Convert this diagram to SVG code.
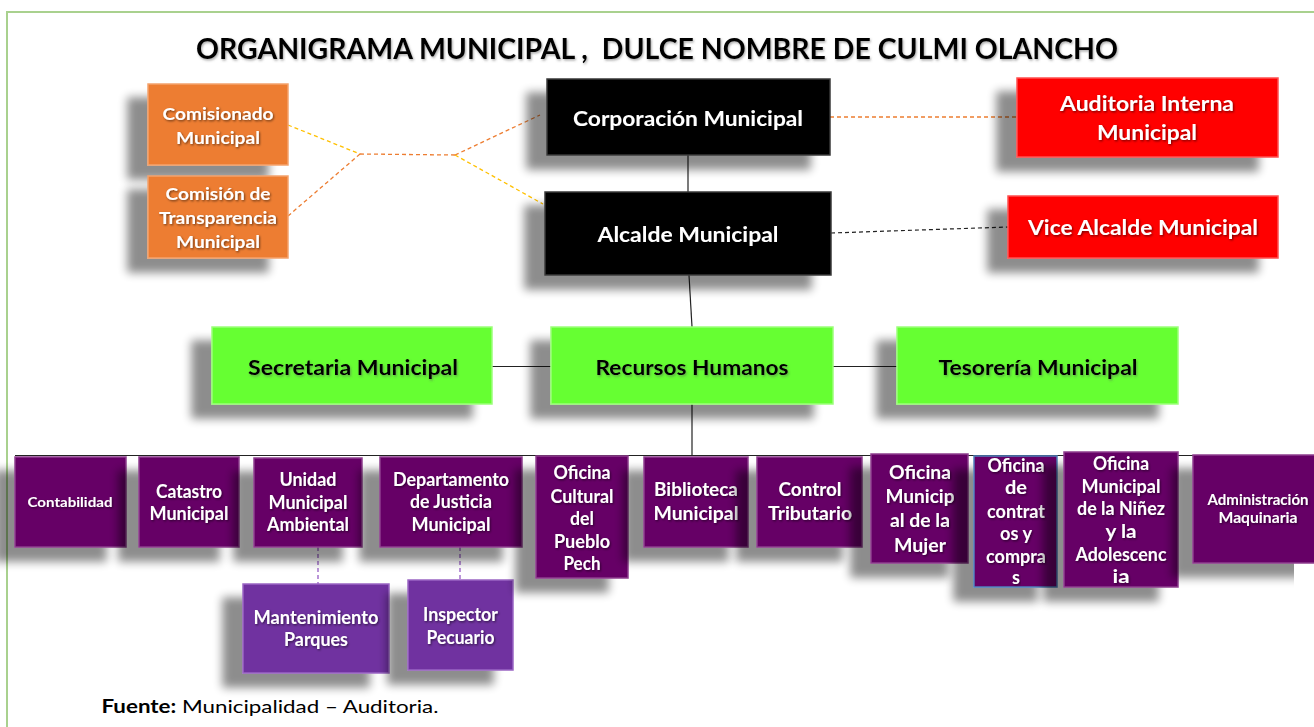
<svg xmlns="http://www.w3.org/2000/svg" width="1314" height="727" viewBox="0 0 1314 727">
<defs>
<filter id="sh" filterUnits="userSpaceOnUse" x="0" y="0" width="1314" height="727">
<feGaussianBlur in="SourceAlpha" stdDeviation="5" result="b"/>
<feOffset in="b" dx="-20" dy="14" result="o"/>
<feComponentTransfer in="o" result="s"><feFuncA type="linear" slope="0.45"/></feComponentTransfer>
<feMerge><feMergeNode in="s"/><feMergeNode in="SourceGraphic"/></feMerge>
</filter>
<filter id="ts" x="-10%" y="-30%" width="120%" height="160%">
<feDropShadow dx="1" dy="1.2" stdDeviation="0.8" flood-color="#000" flood-opacity="0.55"/>
</filter>
<filter id="tsg" x="-10%" y="-30%" width="120%" height="160%">
<feDropShadow dx="1" dy="1.5" stdDeviation="1" flood-color="#555" flood-opacity="0.5"/>
</filter>
</defs>
<style>
text{font-family:Lato,"Liberation Sans",sans-serif;font-weight:bold;text-anchor:middle}
.w{fill:#fff;filter:url(#ts)}
.k{fill:#000;filter:url(#tsg)}
.org{fill:#ED7D31;stroke:#F4A36C;stroke-width:1.5}
.blk{fill:#000;stroke:#3a3a3a;stroke-width:1.5}
.red{fill:#FF0000;stroke:#FF5050;stroke-width:1.5}
.grn{fill:#66FF33;stroke:#9CFF7A;stroke-width:1.5}
.pur{fill:#660066;stroke:#8E3C8E;stroke-width:1.5}
.lpu{fill:#7030A0;stroke:#9A66C4;stroke-width:1.5}
.p{font-size:18px}
.ln{stroke:#222;stroke-width:1.2;fill:none}
.do{stroke:#ED7D31;stroke-width:1.3;stroke-dasharray:4 3;fill:none}
.dy{stroke:#FFC000;stroke-width:1.3;stroke-dasharray:4 3;fill:none}
.dk{stroke:#222;stroke-width:1.2;stroke-dasharray:4 3;fill:none}
.dp{stroke:#8E4FC0;stroke-width:1.2;stroke-dasharray:4 3;fill:none}
</style>
<rect x="0" y="0" width="1314" height="727" fill="#fff"/>
<path d="M7 727 V12 H1314" fill="none" stroke="#A9D18E" stroke-width="2"/>
<text id="title" x="657" y="59" font-size="29" textLength="922" lengthAdjust="spacingAndGlyphs" fill="#000" filter="url(#tsg)">ORGANIGRAMA MUNICIPAL ,&#160; DULCE NOMBRE DE CULMI OLANCHO</text>

<g id="connectors">
<line class="ln" x1="15" y1="455.5" x2="1314" y2="455.5"/>
<line class="ln" x1="688" y1="155" x2="688" y2="192"/>
<line class="ln" x1="689" y1="275" x2="692" y2="327"/>
<line class="ln" x1="492" y1="366.5" x2="551" y2="366.5"/>
<line class="ln" x1="833" y1="366.5" x2="897" y2="366.5"/>
<line class="ln" x1="692" y1="404" x2="692" y2="455.5"/>
<line class="do" x1="830" y1="117" x2="1017" y2="117"/>
<line class="dk" x1="831" y1="233" x2="1008" y2="227"/>
<line class="dy" x1="288" y1="125" x2="360" y2="154"/>
<line class="do" x1="288" y1="216" x2="360" y2="154"/>
<line class="do" x1="360" y1="154" x2="455" y2="155"/>
<line class="do" x1="455" y1="155" x2="540" y2="115"/>
<line class="dy" x1="455" y1="155" x2="543" y2="204"/>
<line class="dp" x1="318" y1="547" x2="318" y2="584"/>
<line class="dp" x1="460" y1="547" x2="460" y2="580"/>
</g>

<g id="comisionado">
<rect class="org" x="148" y="84" width="140" height="81" filter="url(#sh)"/>
<text class="w" x="218" y="120" font-size="17" textLength="111" lengthAdjust="spacingAndGlyphs">Comisionado</text>
<text class="w" x="218" y="144" font-size="17" textLength="84" lengthAdjust="spacingAndGlyphs">Municipal</text>
</g>
<g id="comision-transparencia">
<rect class="org" x="148" y="176" width="140" height="82" filter="url(#sh)"/>
<text class="w" x="218" y="200" font-size="17" textLength="105" lengthAdjust="spacingAndGlyphs">Comisión de</text>
<text class="w" x="218" y="224" font-size="17" textLength="118" lengthAdjust="spacingAndGlyphs">Transparencia</text>
<text class="w" x="218" y="248" font-size="17" textLength="84" lengthAdjust="spacingAndGlyphs">Municipal</text>
</g>
<g id="corporacion">
<rect class="blk" x="547" y="79" width="283" height="76" filter="url(#sh)"/>
<text class="w" x="688" y="126" font-size="20" textLength="230" lengthAdjust="spacingAndGlyphs">Corporación Municipal</text>
</g>
<g id="alcalde">
<rect class="blk" x="545" y="192" width="286" height="83" filter="url(#sh)"/>
<text class="w" x="688" y="242" font-size="20" textLength="181" lengthAdjust="spacingAndGlyphs">Alcalde Municipal</text>
</g>
<g id="auditoria">
<rect class="red" x="1017" y="78" width="261" height="79" filter="url(#sh)"/>
<text class="w" x="1147" y="111" font-size="20" textLength="174" lengthAdjust="spacingAndGlyphs">Auditoria Interna</text>
<text class="w" x="1147" y="140" font-size="20" textLength="100" lengthAdjust="spacingAndGlyphs">Municipal</text>
</g>
<g id="vice-alcalde">
<rect class="red" x="1008" y="196" width="270" height="62" filter="url(#sh)"/>
<text class="w" x="1143" y="235" font-size="20" textLength="230" lengthAdjust="spacingAndGlyphs">Vice Alcalde Municipal</text>
</g>

<g id="secretaria">
<rect class="grn" x="212" y="327" width="280" height="77" filter="url(#sh)"/>
<text class="k" x="353" y="375" font-size="20.5" textLength="210" lengthAdjust="spacingAndGlyphs">Secretaria Municipal</text>
</g>
<g id="recursos">
<rect class="grn" x="551" y="327" width="282" height="77" filter="url(#sh)"/>
<text class="k" x="692" y="375" font-size="20.5" textLength="193" lengthAdjust="spacingAndGlyphs">Recursos Humanos</text>
</g>
<g id="tesoreria">
<rect class="grn" x="897" y="327" width="281" height="77" filter="url(#sh)"/>
<text class="k" x="1038" y="375" font-size="20.5" textLength="199" lengthAdjust="spacingAndGlyphs">Tesorería Municipal</text>
</g>

<g id="contabilidad">
<rect class="pur" x="15" y="457" width="111" height="90" filter="url(#sh)"/>
<text class="w" x="70" y="507" font-size="14" textLength="85" lengthAdjust="spacingAndGlyphs">Contabilidad</text>
</g>
<g id="catastro">
<rect class="pur" x="139" y="457" width="100" height="90" filter="url(#sh)"/>
<text class="w p" x="189" y="498" textLength="66" lengthAdjust="spacingAndGlyphs">Catastro</text>
<text class="w p" x="189" y="520" textLength="79" lengthAdjust="spacingAndGlyphs">Municipal</text>
</g>
<g id="unidad-ambiental">
<rect class="pur" x="254" y="458" width="108" height="89" filter="url(#sh)"/>
<text class="w p" x="308" y="486" textLength="57" lengthAdjust="spacingAndGlyphs">Unidad</text>
<text class="w p" x="308" y="509" textLength="79" lengthAdjust="spacingAndGlyphs">Municipal</text>
<text class="w p" x="308" y="531" textLength="82" lengthAdjust="spacingAndGlyphs">Ambiental</text>
</g>
<g id="justicia">
<rect class="pur" x="380" y="457" width="142" height="90" filter="url(#sh)"/>
<text class="w p" x="451" y="486" textLength="116" lengthAdjust="spacingAndGlyphs">Departamento</text>
<text class="w p" x="451" y="508" textLength="82" lengthAdjust="spacingAndGlyphs">de Justicia</text>
<text class="w p" x="451" y="531" textLength="79" lengthAdjust="spacingAndGlyphs">Municipal</text>
</g>
<g id="mantenimiento">
<rect class="lpu" x="243" y="584" width="146" height="89" filter="url(#sh)"/>
<text class="w p" x="316" y="624" textLength="125" lengthAdjust="spacingAndGlyphs">Mantenimiento</text>
<text class="w p" x="316" y="646" textLength="64" lengthAdjust="spacingAndGlyphs">Parques</text>
</g>
<g id="inspector">
<rect class="lpu" x="408" y="580" width="105" height="90" filter="url(#sh)"/>
<text class="w p" x="460.5" y="621" textLength="75" lengthAdjust="spacingAndGlyphs">Inspector</text>
<text class="w p" x="460.5" y="644" textLength="68" lengthAdjust="spacingAndGlyphs">Pecuario</text>
</g>
<g id="cultural">
<rect class="pur" x="536" y="456" width="92" height="122" filter="url(#sh)"/>
<text class="w p" x="582" y="479" textLength="57" lengthAdjust="spacingAndGlyphs">Oficina</text>
<text class="w p" x="582" y="503" textLength="63" lengthAdjust="spacingAndGlyphs">Cultural</text>
<text class="w p" x="582" y="525" textLength="24" lengthAdjust="spacingAndGlyphs">del</text>
<text class="w p" x="582" y="548" textLength="56" lengthAdjust="spacingAndGlyphs">Pueblo</text>
<text class="w p" x="582" y="570" textLength="37" lengthAdjust="spacingAndGlyphs">Pech</text>
</g>
<g id="biblioteca">
<rect class="pur" x="644" y="457" width="104" height="90" filter="url(#sh)"/>
<text class="w p" x="696" y="496" textLength="84" lengthAdjust="spacingAndGlyphs">Biblioteca</text>
<text class="w p" x="696" y="520" textLength="85" lengthAdjust="spacingAndGlyphs">Municipal</text>
</g>
<g id="control">
<rect class="pur" x="757" y="457" width="105" height="90" filter="url(#sh)"/>
<text class="w p" x="810" y="496" textLength="63" lengthAdjust="spacingAndGlyphs">Control</text>
<text class="w p" x="810" y="520" textLength="84" lengthAdjust="spacingAndGlyphs">Tributario</text>
</g>
<g id="mujer">
<rect class="pur" x="871" y="454" width="97" height="109" filter="url(#sh)"/>
<text class="w p" x="920" y="479" textLength="62" lengthAdjust="spacingAndGlyphs">Oficina</text>
<text class="w p" x="920" y="503" textLength="69" lengthAdjust="spacingAndGlyphs">Municip</text>
<text class="w p" x="920" y="527" textLength="60" lengthAdjust="spacingAndGlyphs">al de la</text>
<text class="w p" x="920" y="552" textLength="52" lengthAdjust="spacingAndGlyphs">Mujer</text>
</g>
<g id="contratos">
<rect x="974" y="456" width="83" height="131" fill="#660066" stroke="#4F81BD" stroke-width="1.5" filter="url(#sh)"/>
<text class="w p" x="1016" y="472" textLength="57" lengthAdjust="spacingAndGlyphs">Oficina</text>
<text class="w p" x="1016" y="494" textLength="22" lengthAdjust="spacingAndGlyphs">de</text>
<text class="w p" x="1016" y="518" textLength="58" lengthAdjust="spacingAndGlyphs">contrat</text>
<text class="w p" x="1016" y="540" textLength="32" lengthAdjust="spacingAndGlyphs">os y</text>
<text class="w p" x="1016" y="563" textLength="60" lengthAdjust="spacingAndGlyphs">compra</text>
<text class="w p" x="1016" y="584">s</text>
</g>
<g id="ninez">
<rect class="pur" x="1064" y="452" width="114" height="135" filter="url(#sh)"/>
<text class="w p" x="1121" y="470" textLength="56" lengthAdjust="spacingAndGlyphs">Oficina</text>
<text class="w p" x="1121" y="493" textLength="79" lengthAdjust="spacingAndGlyphs">Municipal</text>
<text class="w p" x="1121" y="515" textLength="88" lengthAdjust="spacingAndGlyphs">de la Niñez</text>
<text class="w p" x="1121" y="538" textLength="31" lengthAdjust="spacingAndGlyphs">y la</text>
<text class="w p" x="1121" y="561" textLength="91" lengthAdjust="spacingAndGlyphs">Adolescenc</text>
<text class="w p" x="1121" y="583" textLength="17" lengthAdjust="spacingAndGlyphs">ia</text>
</g>
<g id="maquinaria">
<rect class="pur" x="1193" y="455" width="130" height="108" filter="url(#sh)"/>
<text class="w" x="1258" y="505" font-size="15" textLength="101" lengthAdjust="spacingAndGlyphs">Administración</text>
<text class="w" x="1258" y="523" font-size="15" textLength="79" lengthAdjust="spacingAndGlyphs">Maquinaria</text>
</g>

<text id="fuente" x="270" y="713" font-size="18" textLength="337" lengthAdjust="spacingAndGlyphs" style="font-weight:normal" fill="#000"><tspan font-weight="bold">Fuente:</tspan> Municipalidad – Auditoria.</text>
</svg>
